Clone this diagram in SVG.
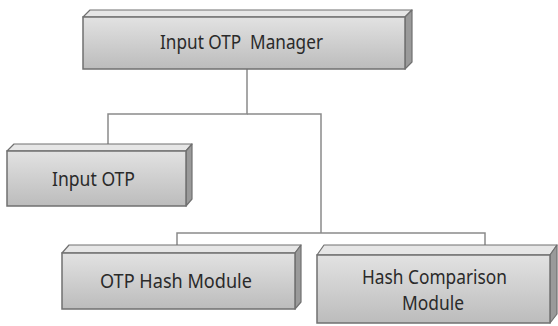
<svg xmlns="http://www.w3.org/2000/svg" width="558" height="326" viewBox="0 0 558 326">
<defs>
<linearGradient id="front" x1="0" y1="0" x2="0" y2="1">
<stop offset="0" stop-color="#e2e2e2"/>
<stop offset="1" stop-color="#bcbcbc"/>
</linearGradient>
<style>
.front{fill:url(#front);stroke:#707070;stroke-width:1.5}
.top{fill:#e6e6e6;stroke:#707070;stroke-width:1.2;stroke-linejoin:round}
.side{fill:#9a9a9a;stroke:#707070;stroke-width:1.2;stroke-linejoin:round}
.lbl{font-family:"Noto Sans","Open Sans",sans-serif;font-size:19px;fill:#2a2a2a;text-anchor:start;white-space:pre}
.conn{fill:none;stroke:#8a8a8a;stroke-width:1.5}
</style>
</defs>
<rect width="558" height="326" fill="#ffffff"/>
<g id="connectors">
<polyline class="conn" points="247,69 247,114 108,114 108,144"/>
<polyline class="conn" points="247,114 321,114 321,233"/>
<polyline class="conn" points="177,245 177,233 485,233 485,245"/>
</g>
<g id="manager">
<polygon class="top" points="83,17 90,10 412,10 405,17"/>
<polygon class="side" points="405,17 412,10 412,62 405,69"/>
<rect class="front" x="83" y="17" width="322" height="52"/>
<text class="lbl" x="160" y="49" textLength="163" lengthAdjust="spacingAndGlyphs" xml:space="preserve">Input OTP  Manager</text>
</g>
<g id="input-otp">
<polygon class="top" points="7,151 14,144 192,144 186,151"/>
<polygon class="side" points="186,151 192,144 192,199 186,206"/>
<rect class="front" x="7" y="151" width="179" height="55"/>
<text class="lbl" x="52" y="186" textLength="83" lengthAdjust="spacingAndGlyphs">Input OTP</text>
</g>
<g id="otp-hash">
<polygon class="top" points="62,253 69,245 301,245 295,253"/>
<polygon class="side" points="295,253 301,245 301,302 295,309"/>
<rect class="front" x="62" y="253" width="233" height="56"/>
<text class="lbl" x="100" y="288" textLength="152" lengthAdjust="spacingAndGlyphs">OTP Hash Module</text>
</g>
<g id="hash-comparison">
<polygon class="top" points="317,255 324,245 557,245 550,255"/>
<polygon class="side" points="550,255 557,245 557,314 550,323"/>
<rect class="front" x="317" y="255" width="233" height="68"/>
<text class="lbl" x="362" y="284" textLength="145" lengthAdjust="spacingAndGlyphs">Hash Comparison</text>
<text class="lbl" x="402" y="310" textLength="62" lengthAdjust="spacingAndGlyphs">Module</text>
</g>
</svg>
